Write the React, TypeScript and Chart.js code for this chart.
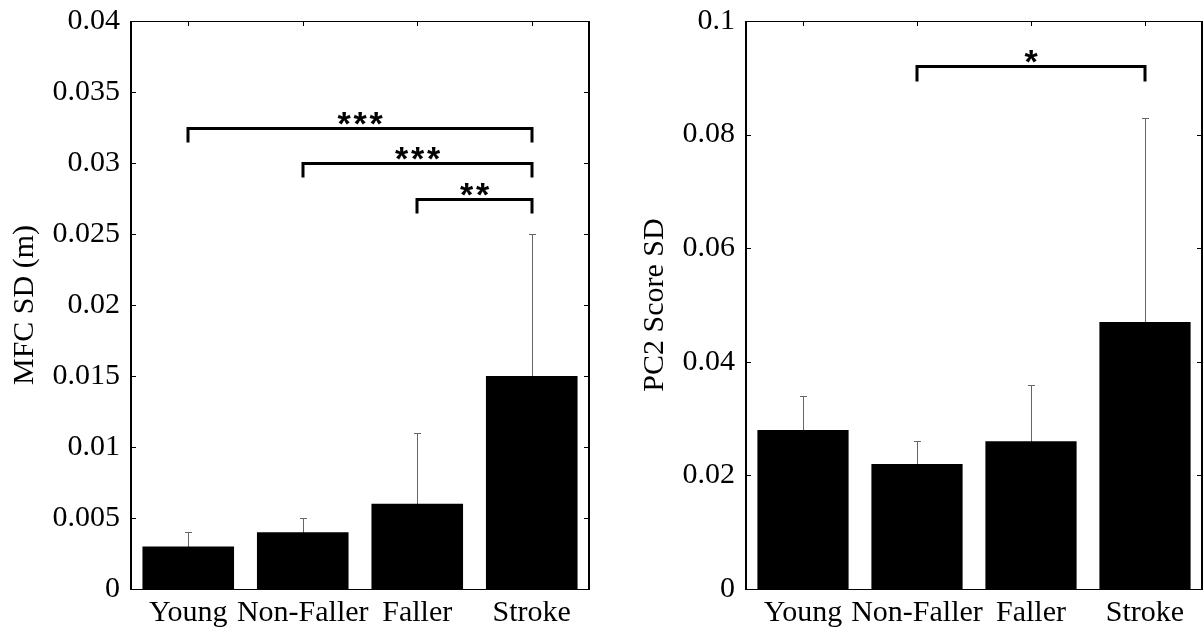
import React, { useEffect, useRef } from 'react';
import { Chart, registerables } from 'chart.js';

Chart.register(...registerables);

// ---------- data ----------
const categories = ['Young', 'Non-Faller', 'Faller', 'Stroke'];

const mfcMeans = [0.003, 0.004, 0.006, 0.015];
const mfcSds = [0.001, 0.001, 0.005, 0.01];
const mfcTicks = [0, 0.005, 0.01, 0.015, 0.02, 0.025, 0.03, 0.035, 0.04];
const mfcTickLabels = ['0', '0.005', '0.01', '0.015', '0.02', '0.025', '0.03', '0.035', '0.04'];
const mfcBracketFrom = [0, 1, 2];
const mfcBracketTo = [3, 3, 3];
const mfcBracketY = [0.0325, 0.03, 0.0275];
const mfcBracketLabel = ['***', '***', '**'];

const pc2Means = [0.028, 0.022, 0.026, 0.047];
const pc2Sds = [0.006, 0.004, 0.01, 0.036];
const pc2Ticks = [0, 0.02, 0.04, 0.06, 0.08, 0.1];
const pc2TickLabels = ['0', '0.02', '0.04', '0.06', '0.08', '0.1'];
const pc2BracketFrom = [1];
const pc2BracketTo = [3];
const pc2BracketY = [0.092];
const pc2BracketLabel = ['*'];

// ---------- styling ----------
const SERIF = '"Liberation Serif", "Times New Roman", serif';

type Panel = {
  means: number[];
  sds: number[];
  ticks: number[];
  tickLabels: string[];
  max: number;
  title: string;
  titlePad: number;
  axisWidth: number;
  padRight: number;
  bFrom: number[];
  bTo: number[];
  bY: number[];
  bLabel: string[];
  drop: number;
};

function decorPlugin(p: Panel) {
  return {
    id: 'decor',
    beforeDatasetsDraw(chart: any) {
      const { ctx } = chart;
      const xs = chart.scales.x;
      const ys = chart.scales.y;
      ctx.save();
      ctx.strokeStyle = '#666666';
      ctx.lineWidth = 1;
      p.means.forEach((m, i) => {
        const cx = Math.round(xs.getPixelForValue(i)) + 0.5;
        const yt = Math.round(ys.getPixelForValue(m + p.sds[i])) + 0.5;
        const yb = ys.getPixelForValue(Math.max(0, m - p.sds[i]));
        ctx.beginPath();
        ctx.moveTo(cx, yb);
        ctx.lineTo(cx, yt);
        ctx.moveTo(cx - 3.5, yt);
        ctx.lineTo(cx + 3.5, yt);
        ctx.stroke();
      });
      ctx.restore();
    },
    afterDraw(chart: any) {
      const { ctx, chartArea } = chart;
      const xs = chart.scales.x;
      const ys = chart.scales.y;
      const L = Math.round(chartArea.left);
      const R = Math.round(chartArea.right);
      const T = Math.round(chartArea.top);
      const B = Math.round(chartArea.bottom);
      ctx.save();
      ctx.strokeStyle = '#000';
      // box
      ctx.lineWidth = 1;
      ctx.beginPath();
      ctx.moveTo(L, T + 0.5);
      ctx.lineTo(R, T + 0.5);
      ctx.moveTo(L, B + 0.5);
      ctx.lineTo(R, B + 0.5);
      ctx.stroke();
      ctx.lineWidth = 2;
      ctx.beginPath();
      ctx.moveTo(L, T);
      ctx.lineTo(L, B + 1);
      ctx.moveTo(R, T);
      ctx.lineTo(R, B + 1);
      ctx.stroke();
      // inward ticks
      ctx.lineWidth = 1;
      ctx.beginPath();
      p.ticks.forEach((v) => {
        const y = Math.round(ys.getPixelForValue(v)) + 0.5;
        ctx.moveTo(L, y);
        ctx.lineTo(L + 5, y);
        ctx.moveTo(R, y);
        ctx.lineTo(R - 5, y);
      });
      categories.forEach((_, i) => {
        const x = Math.round(xs.getPixelForValue(i)) + 0.5;
        ctx.moveTo(x, T);
        ctx.lineTo(x, T + 5);
        ctx.moveTo(x, B);
        ctx.lineTo(x, B - 5);
      });
      ctx.stroke();
      // significance brackets
      ctx.lineWidth = 3;
      ctx.lineJoin = 'miter';
      ctx.lineCap = 'butt';
      ctx.fillStyle = '#000';
      ctx.font = 'bold 34px "Liberation Sans", Arial, sans-serif';
      ctx.textAlign = 'center';
      ctx.textBaseline = 'alphabetic';
      p.bY.forEach((bv, k) => {
        const x1 = Math.round(xs.getPixelForValue(p.bFrom[k]));
        const x2 = Math.round(xs.getPixelForValue(p.bTo[k]));
        const yl = Math.round(ys.getPixelForValue(bv)) + 0.5;
        ctx.beginPath();
        ctx.moveTo(x1, yl + p.drop);
        ctx.lineTo(x1, yl);
        ctx.lineTo(x2, yl);
        ctx.lineTo(x2, yl + p.drop);
        ctx.stroke();
        const label = p.bLabel[k];
        const m = ctx.measureText('*');
        const baseline = yl - 4 - m.actualBoundingBoxDescent;
        const mid = (x1 + x2) / 2;
        const n = label.length;
        for (let j = 0; j < n; j++) {
          const cx = mid + (j - (n - 1) / 2) * 16;
          ctx.fillText('*', cx, baseline);
        }
      });
      ctx.restore();
    },
  };
}

function makeConfig(p: Panel): any {
  return {
    type: 'bar',
    data: {
      labels: categories,
      datasets: [
        {
          data: p.means,
          backgroundColor: '#000000',
          borderWidth: 0,
          barPercentage: 0.8,
          categoryPercentage: 1,
        },
      ],
    },
    options: {
      animation: false,
      responsive: false,
      maintainAspectRatio: false,
      devicePixelRatio: 1,
      layout: { padding: { top: 21, right: p.padRight, left: 0, bottom: 0 } },
      plugins: { legend: { display: false }, tooltip: { enabled: false }, title: { display: false } },
      scales: {
        x: {
          grid: { display: false, drawTicks: false },
          border: { display: false },
          ticks: {
            color: '#000',
            font: { family: SERIF, size: 30 },
            padding: 6,
            maxRotation: 0,
            minRotation: 0,
            autoSkip: false,
          },
          afterFit: (s: any) => {
            s.height = 40;
            s.paddingLeft = 0;
            s.paddingRight = 0;
          },
        },
        y: {
          min: 0,
          max: p.max,
          grid: { display: false, drawTicks: false },
          border: { display: false },
          afterBuildTicks: (s: any) => {
            s.ticks = p.ticks.map((v) => ({ value: v }));
          },
          ticks: {
            color: '#000',
            font: { family: SERIF, size: 30 },
            padding: 11,
            autoSkip: false,
            callback: (_v: any, i: number) => p.tickLabels[i],
          },
          title: {
            display: true,
            text: p.title,
            color: '#000',
            font: { family: SERIF, size: 30, lineHeight: 1 },
            padding: { top: p.titlePad, bottom: 0 },
          },
          afterFit: (s: any) => {
            s.width = p.axisWidth;
            s.paddingTop = 0;
            s.paddingBottom = 0;
          },
        },
      },
    },
    plugins: [decorPlugin(p)],
  };
}

const leftPanel: Panel = {
  means: mfcMeans,
  sds: mfcSds,
  ticks: mfcTicks,
  tickLabels: mfcTickLabels,
  max: 0.04,
  title: 'MFC SD (m)',
  titlePad: 10,
  axisWidth: 131,
  padRight: 11,
  bFrom: mfcBracketFrom,
  bTo: mfcBracketTo,
  bY: mfcBracketY,
  bLabel: mfcBracketLabel,
  drop: 14,
};

const rightPanel: Panel = {
  means: pc2Means,
  sds: pc2Sds,
  ticks: pc2Ticks,
  tickLabels: pc2TickLabels,
  max: 0.1,
  title: 'PC2 Score SD',
  titlePad: 20,
  axisWidth: 126,
  padRight: 2,
  bFrom: pc2BracketFrom,
  bTo: pc2BracketTo,
  bY: pc2BracketY,
  bLabel: pc2BracketLabel,
  drop: 15,
};

function BarPanel({ panel, left, width }: { panel: Panel; left: number; width: number }) {
  const ref = useRef<HTMLCanvasElement | null>(null);
  useEffect(() => {
    if (!ref.current) return;
    const chart = new Chart(ref.current, makeConfig(panel));
    return () => chart.destroy();
  }, [panel]);
  return (
    <canvas
      ref={ref}
      width={width}
      height={629}
      style={{ position: 'absolute', left, top: 0, width, height: 629, display: 'block' }}
    />
  );
}

export default function App() {
  return (
    <div
      style={{
        position: 'fixed',
        left: 0,
        top: 0,
        width: 1204,
        height: 629,
        background: '#fff',
        overflow: 'hidden',
      }}
    >
      <BarPanel panel={leftPanel} left={0} width={600} />
      <BarPanel panel={rightPanel} left={620} width={584} />
    </div>
  );
}
